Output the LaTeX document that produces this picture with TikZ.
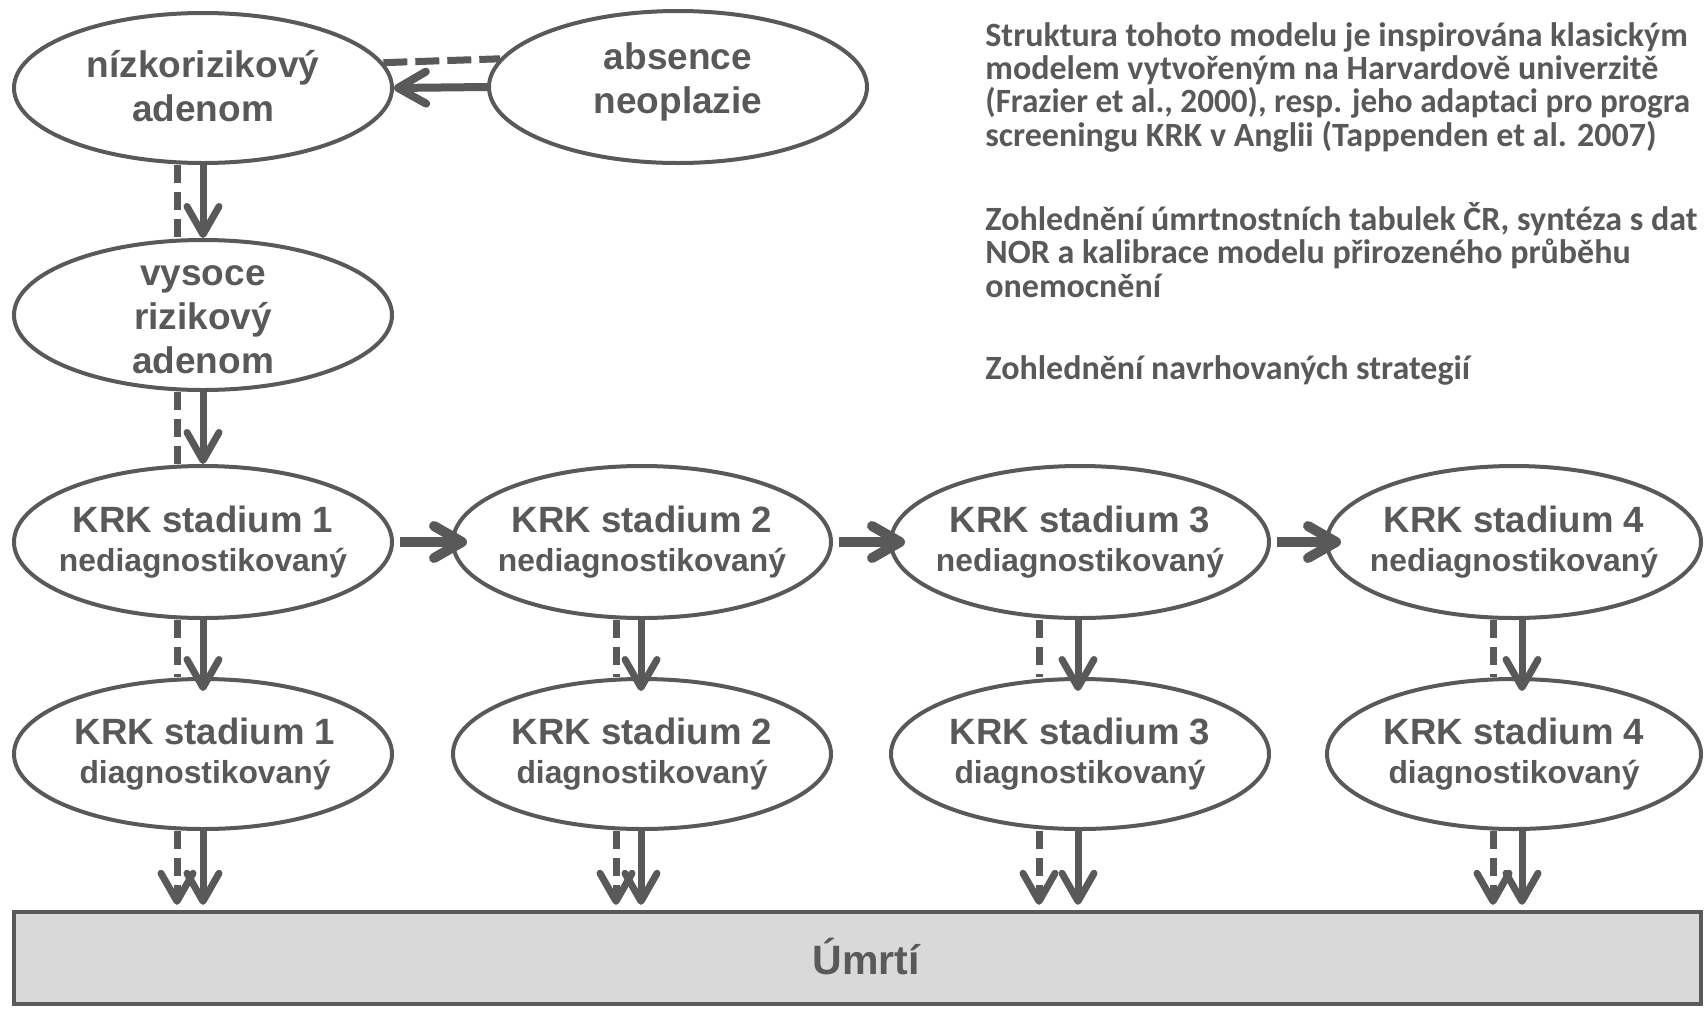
\documentclass[tikz,border=0pt]{standalone}
\usepackage{fontspec}
\setmainfont{Liberation Sans}
\newfontfamily\carl{Carlito}
\usetikzlibrary{arrows.meta,shapes.geometric,calc}
\definecolor{dg}{HTML}{595959}
\definecolor{lg}{HTML}{D9D9D9}
\begin{document}
\begin{tikzpicture}[x=0.5pt,y=-0.5pt,
  ell/.style={ellipse, draw=dg, line width=2pt, fill=white, minimum width=189pt, minimum height=75pt, inner sep=0pt},
  toplbl/.style={font=\bfseries\fontsize{18.5}{22}\selectfont, text=dg, align=center, inner sep=0pt},
  krklbl/.style={font=\bfseries\fontsize{18.3}{19.5}\selectfont, text=dg, align=center, inner sep=0pt},
  rtxt/.style={font=\carl\bfseries\fontsize{17}{16.5}\selectfont, text=dg, inner sep=0pt, anchor=base west},
  barb/.style={-{Straight Barb[length=14pt,width=16pt,round]}},
  vsol/.style={draw=dg, line width=3.5pt, barb},
  vdash/.style={draw=dg, line width=3.5pt, dash pattern=on 9pt off 4.5pt},
  hdash/.style={draw=dg, line width=3.5pt, dash pattern=on 12pt off 4pt},
  hsol/.style={draw=dg, line width=5pt, barb},
  topsol/.style={draw=dg, line width=4pt, barb},
  deathbox/.style={draw=dg, fill=lg, line width=2.2pt, minimum width=843.5pt, minimum height=46pt, inner sep=0pt}
]
\useasboundingbox (0,0) rectangle (1704,1008);
\fill[white] (0,0) rectangle (1704,1008);
\clip (0,0) rectangle (1704,1008);

% ellipses
\node[ell] (nlow) at (203,88) {};
\node[ell, minimum height=76pt] (abs) at (678,87) {};
\node[ell] (high) at (203,315) {};
\node[ell, minimum height=76pt] (n1) at (203,542) {};
\node[ell, minimum height=76pt] (n2) at (642,542) {};
\node[ell, minimum height=76pt] (n3) at (1080,542) {};
\node[ell, minimum height=76pt, minimum width=187pt] (n4) at (1514,542) {};
\node[ell] (d1) at (203,754) {};
\node[ell] (d2) at (642,754) {};
\node[ell] (d3) at (1080,754) {};
\node[ell, minimum width=187pt] (d4) at (1514,754) {};
\node[deathbox] (death) at (857.5,958) {};

% labels
\node[toplbl] (nlowt) at (203,86) {nízkorizikový\\adenom};
\node[toplbl] (abst) at (678,82) {absence\\neoplazie};
\node[toplbl] (hight) at (203,320) {vysoce\\rizikový\\adenom};
\node[krklbl] (n1t) at (203,542) {KRK stadium 1\\{\fontsize{15.9}{19.5}\selectfont nediagnostikovaný}};
\node[krklbl] (n2t) at (642,542) {KRK stadium 2\\{\fontsize{15.9}{19.5}\selectfont nediagnostikovaný}};
\node[krklbl] (n3t) at (1080,542) {KRK stadium 3\\{\fontsize{15.9}{19.5}\selectfont nediagnostikovaný}};
\node[krklbl] (n4t) at (1514,542) {KRK stadium 4\\{\fontsize{15.9}{19.5}\selectfont nediagnostikovaný}};
\node[krklbl] (d1t) at (205,754) {KRK stadium 1\\{\fontsize{15.9}{19.5}\selectfont diagnostikovaný}};
\node[krklbl] (d2t) at (642,754) {KRK stadium 2\\{\fontsize{15.9}{19.5}\selectfont diagnostikovaný}};
\node[krklbl] (d3t) at (1080,754) {KRK stadium 3\\{\fontsize{15.9}{19.5}\selectfont diagnostikovaný}};
\node[krklbl] (d4t) at (1514,754) {KRK stadium 4\\{\fontsize{15.9}{19.5}\selectfont diagnostikovaný}};
\node[toplbl, font=\bfseries\fontsize{20.5}{24}\selectfont] (deatht) at (866,957) {Úmrtí};

% right-hand text
\node[rtxt] (r1) at (985,46) {Struktura tohoto modelu je inspirována klasickým};
\node[rtxt] (r2) at (985,79) {modelem vytvořeným na Harvardově univerzitě};
\node[rtxt] (r3) at (985,112) {\scalebox{0.975}[1]{(Frazier et al., 2000), resp. jeho adaptaci pro progra}};
\node[rtxt] (r4) at (985,146) {screeningu KRK v Anglii (Tappenden et al. 2007)};
\node[rtxt] (r5) at (985,230) {Zohlednění úmrtnostních tabulek ČR, syntéza s dat};
\node[rtxt] (r6) at (985,263) {NOR a kalibrace modelu přirozeného průběhu};
\node[rtxt] (r7) at (985,297) {onemocnění};
\node[rtxt] (r8) at (985,379) {Zohlednění navrhovaných strategií};

% top connectors
\draw[hdash] (nlow.8.6) -- (abs.171.7);
\draw[topsol] (abs.west) -- (nlow.east);
\draw[vdash] ($(nlow.south)+(-26,0)$) -- ($(high.north)+(-26,0)$);
\draw[vsol] (nlow.south) -- (high.north);
\draw[vdash] ($(high.south)+(-26,0)$) -- ($(n1.north)+(-26,0)$);
\draw[vsol] (high.south) -- (n1.north);

% row arrows
\draw[hsol, shorten <=3pt, shorten >=-8pt] (n1.east) -- (n2.west);
\draw[hsol, shorten <=3pt, shorten >=-8pt] (n2.east) -- (n3.west);
\draw[hsol, shorten <=3pt, shorten >=-8pt] (n3.east) -- (n4.west);

% nediagnostikovany -> diagnostikovany
\draw[vdash] ($(n1.south)+(-26,0)$) -- ($(d1.north)+(-26,0)$);
\draw[vsol, shorten >=-7pt] (n1.south) -- (d1.north);
\draw[vdash] ($(n2.south)+(-26,0)$) -- ($(d2.north)+(-26,0)$);
\draw[vsol, shorten >=-7pt] ($(n2.south)+(-1,0)$) -- ($(d2.north)+(-1,0)$);
\draw[vdash] ($(n3.south)+(-41,0)$) -- ($(d3.north)+(-41,0)$);
\draw[vsol, shorten >=-7pt] ($(n3.south)+(-2,0)$) -- ($(d3.north)+(-2,0)$);
\draw[vdash] ($(n4.south)+(-21,0)$) -- ($(d4.north)+(-21,0)$);
\draw[vsol, shorten >=-7pt] ($(n4.south)+(8,0)$) -- ($(d4.north)+(8,0)$);

% diagnostikovany -> death
\draw[vdash, barb, shorten >=2.5pt] ($(d1.south)+(-26,0)$) -- ($(d1.south |- death.north)+(-26,0)$);
\draw[vsol, shorten >=2.5pt] (d1.south) -- (d1.south |- death.north);
\draw[vdash, barb, shorten >=2.5pt] ($(d2.south)+(-26,0)$) -- ($(d2.south |- death.north)+(-26,0)$);
\draw[vsol, shorten >=2.5pt] ($(d2.south)+(-1,0)$) -- ($(d2.south |- death.north)+(-1,0)$);
\draw[vdash, barb, shorten >=2.5pt] ($(d3.south)+(-41,0)$) -- ($(d3.south |- death.north)+(-41,0)$);
\draw[vsol, shorten >=2.5pt] ($(d3.south)+(-2,0)$) -- ($(d3.south |- death.north)+(-2,0)$);
\draw[vdash, barb, shorten >=2.5pt] ($(d4.south)+(-21,0)$) -- ($(d4.south |- death.north)+(-21,0)$);
\draw[vsol, shorten >=2.5pt] ($(d4.south)+(8,0)$) -- ($(d4.south |- death.north)+(8,0)$);
\end{tikzpicture}
\end{document}
